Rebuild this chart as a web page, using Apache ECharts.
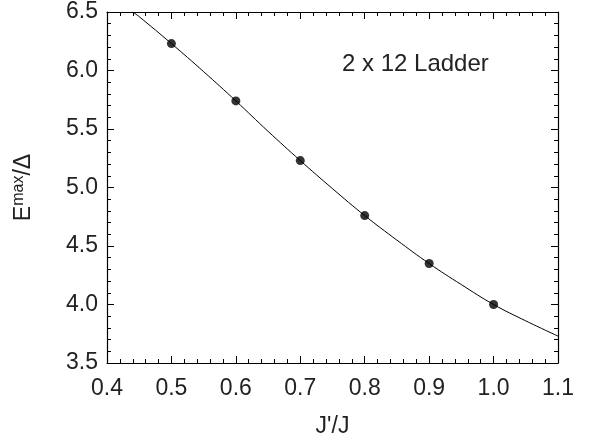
<!DOCTYPE html>
<html>
<head>
<meta charset="utf-8">
<script src="https://cdn.jsdelivr.net/npm/echarts@6/dist/echarts.min.js"></script>
<style>html,body{margin:0;padding:0;background:#fff}#c{width:589px;height:443px}</style>
</head>
<body>
<div id="c"></div>
<script>
// Data points (J'/J, E^max/Δ)
var pointX = [0.5, 0.6, 0.7, 0.8, 0.9, 1.0];
var pointY = [6.23, 5.74, 5.23, 4.76, 4.35, 4.00];
// Fitted curve samples
var curveX = [0.44, 0.45, 0.50, 0.55, 0.60, 0.65, 0.70, 0.75, 0.80, 0.85, 0.90, 0.95, 1.00, 1.05, 1.10];
var curveY = [6.50, 6.46, 6.23, 5.99, 5.74, 5.48, 5.23, 4.99, 4.76, 4.55, 4.35, 4.17, 4.00, 3.86, 3.73];
var annotation = '2 x 12 Ladder';

var font = '"Liberation Sans", Arial, Helvetica, sans-serif';
var ink = '#000';
var txt = '#222';
function pairs(xs, ys){ return xs.map(function(x,i){ return [x, ys[i]]; }); }

var baseTick = {show:true, inside:true, length:7, lineStyle:{color:ink, width:1}};
var baseMinor = {show:true, splitNumber:5, length:4, lineStyle:{color:ink, width:1}};
var baseLine = {show:true, onZero:false, lineStyle:{color:ink, width:1.2}};

var chart = echarts.init(document.getElementById('c'));
chart.setOption({
  animation:false,
  backgroundColor:'#fff',
  grid:{left:107, right:31, top:12, bottom:79, containLabel:false},
  xAxis:[{
    type:'value', min:0.4, max:1.1, interval:0.1, position:'bottom',
    axisLine:baseLine, axisTick:baseTick, minorTick:baseMinor, splitLine:{show:false},
    axisLabel:{color:txt, fontFamily:font, fontSize:23, margin:14,
      formatter:function(v){return v.toFixed(1);}},
    name:"J'/J", nameLocation:'middle', nameGap:52,
    nameTextStyle:{color:txt, fontFamily:font, fontSize:23}
  },{
    type:'value', min:0.4, max:1.1, interval:0.1, position:'top',
    axisLine:baseLine, axisTick:baseTick, minorTick:baseMinor, splitLine:{show:false},
    axisLabel:{show:false}
  }],
  yAxis:[{
    type:'value', min:3.5, max:6.5, interval:0.5, position:'left',
    axisLine:baseLine, axisTick:baseTick, minorTick:baseMinor, splitLine:{show:false},
    axisLabel:{color:txt, fontFamily:font, fontSize:23, margin:9, padding:[5,0,0,0],
      formatter:function(v){return v.toFixed(1);}},
    name:'{a|E}{b|max}{a|/Δ}', nameLocation:'middle', nameGap:71, nameRotate:90,
    nameTextStyle:{color:txt, fontFamily:font, fontSize:23,
      rich:{a:{fontFamily:font, fontSize:23, color:txt},
            b:{fontFamily:font, fontSize:16, color:txt, padding:[0,0,9,0]}}}
  },{
    type:'value', min:3.5, max:6.5, interval:0.5, position:'right',
    axisLine:baseLine, axisTick:baseTick, minorTick:baseMinor, splitLine:{show:false},
    axisLabel:{show:false}
  }],
  series:[{
    type:'line', data:pairs(curveX, curveY), smooth:0.4, symbol:'none', clip:true,
    lineStyle:{color:ink, width:1}, xAxisIndex:0, yAxisIndex:0, z:2
  },{
    type:'scatter', data:pairs(pointX, pointY), symbol:'circle', symbolSize:9,
    itemStyle:{color:ink}, xAxisIndex:0, yAxisIndex:0, z:3
  }],
  graphic:[{
    type:'text', x:342, y:64,
    style:{text:annotation, fill:txt, font:'24px ' + font, verticalAlign:'middle'}
  }]
});
</script>
</body>
</html>
